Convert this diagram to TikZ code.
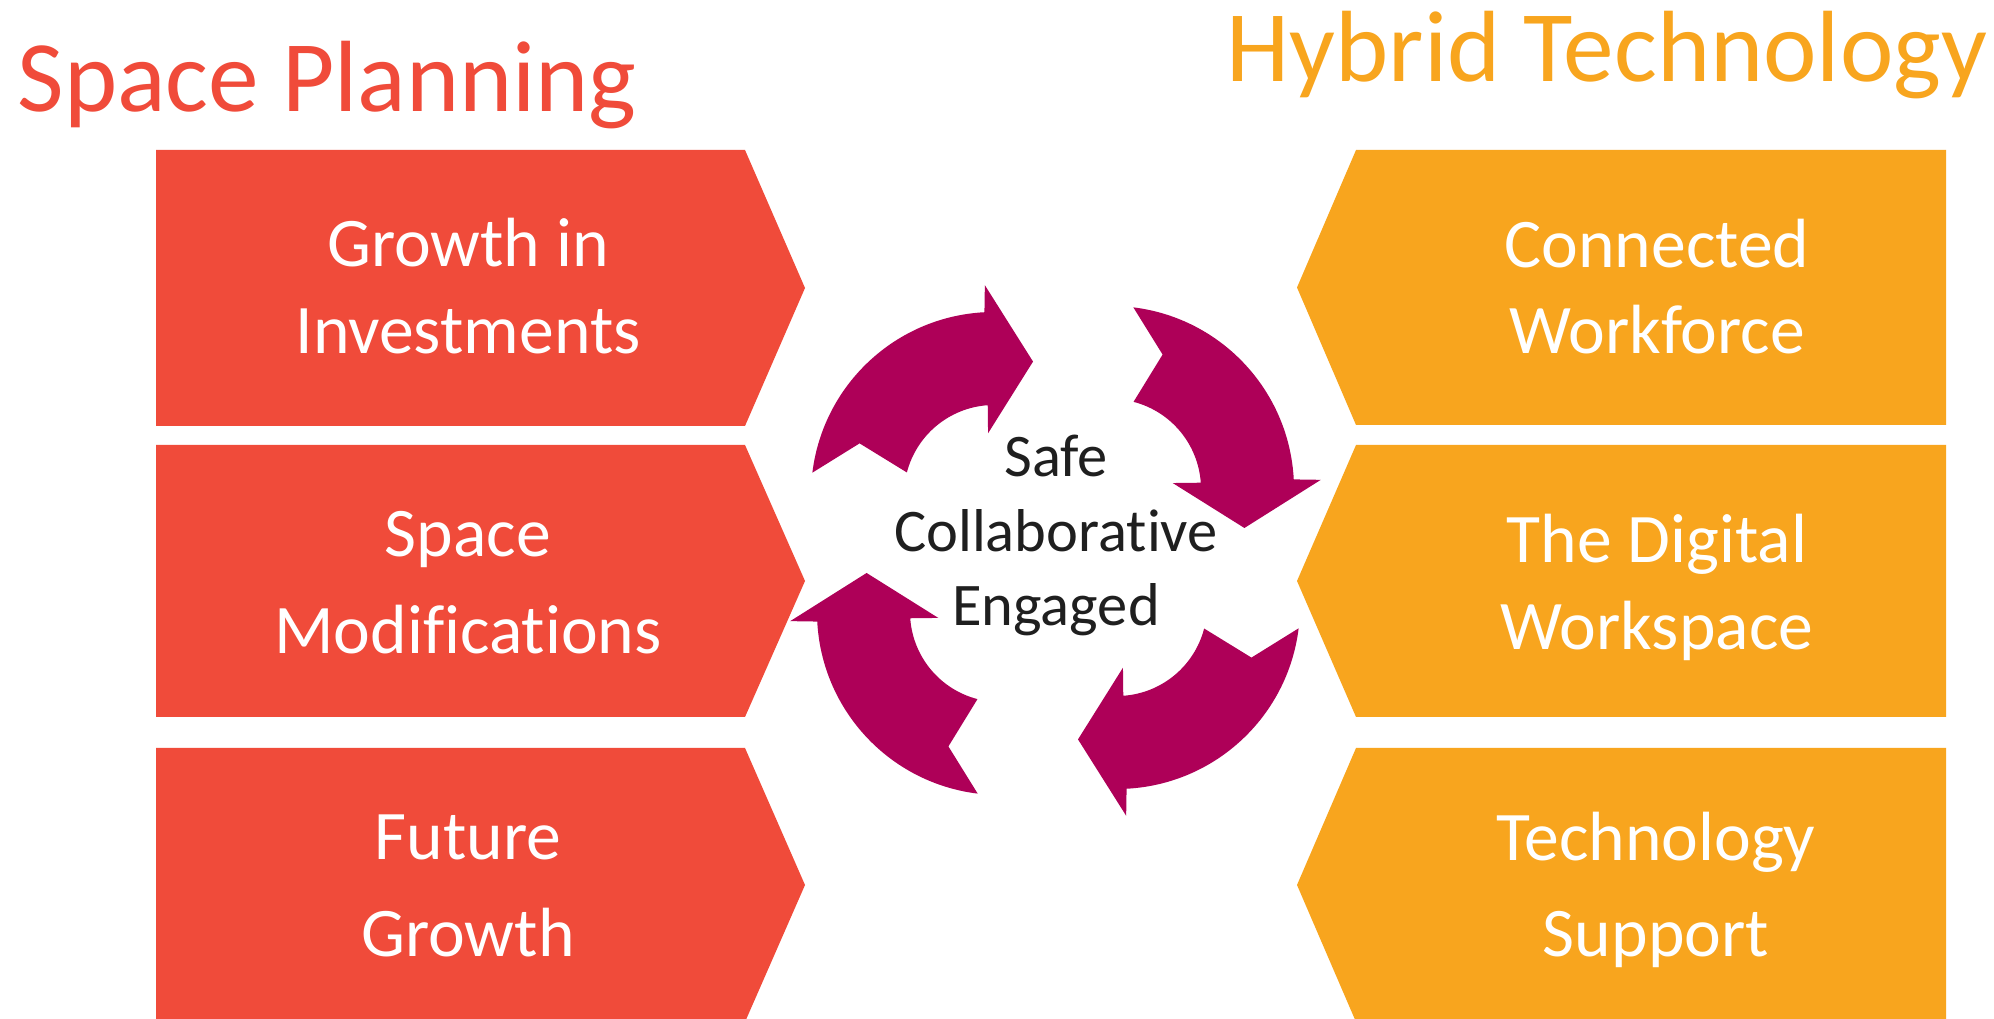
\documentclass[tikz,border=0pt]{standalone}
\usepackage{fontspec}
\setmainfont{Carlito}[Ligatures=NoCommon]
\definecolor{planred}{RGB}{240,75,58}
\definecolor{techorange}{RGB}{248,165,30}
\definecolor{cyclepurple}{RGB}{174,0,88}
\tikzset{%
title/.style={font=\fontsize{28.8}{34}\selectfont,inner sep=0,anchor=base west},
planbox/.style={fill=planred},
techbox/.style={fill=techorange},
boxtext/.style={text=white,align=center,inner sep=0,anchor=base,font=\fontsize{19.8}{#1}\selectfont},
cyclearrow/.style={fill=cyclepurple},
values/.style={text=black!88,align=center,inner sep=0,anchor=base,font=\fontsize{17.2}{21.3}\selectfont}
}
\begin{document}
\begin{tikzpicture}[x=0.01cm,y=0.01cm]

    \path[use as bounding box,fill=white] (0,0) rectangle (1994,1019);

    \node[title,text=planred] (spaceplan) at (17,907) {Space Planning};
    \node[title,text=techorange] (hybridtech) at (1226,937) {Hybrid Technology};

    \foreach \t/\b in {869/593,574/302,271/-3}
      \fill[planbox] (156,\t) -- (745,\t) -- (805,{(\t+\b)/2}) -- (745,\b) -- (156,\b) -- cycle;
    \foreach \t/\b in {869/594,574/302,271/-3}
      \fill[techbox] (1946,\t) -- (1356,\t) -- (1297,{(\t+\b)/2}) -- (1356,\b) -- (1946,\b) -- cycle;

    % base anchor sits on the last line
    \node[boxtext=24.75] (growth) at (468,665) {Growth in\\Investments};
    \node[boxtext=27.8] (modif) at (468,365) {Space\\Modifications};
    \node[boxtext=27.8] (future) at (468,62) {Future\\Growth};
    \node[boxtext=24.5] (workforce) at (1657,665) {Connected\\Workforce};
    \node[boxtext=24.75] (digital) at (1657,369) {The Digital\\Workspace};
    \node[boxtext=27.3] (support) at (1656,62) {Technology\\Support};

    \foreach \k in {0,1,2,3}
      \fill[cyclearrow,shift={(1055.5,468.5)},rotate=-90*\k,shift={(-61.5,55.5)}]
        (173:183) -- (159:144) -- (165.5:90) arc[start angle=165.5,end angle=94,radius=90]
        -- (95.5:62) -- (73.7:139) -- (92.5:210) -- (93:183)
        arc[start angle=93,end angle=173,radius=183] -- cycle;

    \node[values] (cycle) at (1056,393) {Safe\\Collaborative\\Engaged};

\end{tikzpicture}
\end{document}
